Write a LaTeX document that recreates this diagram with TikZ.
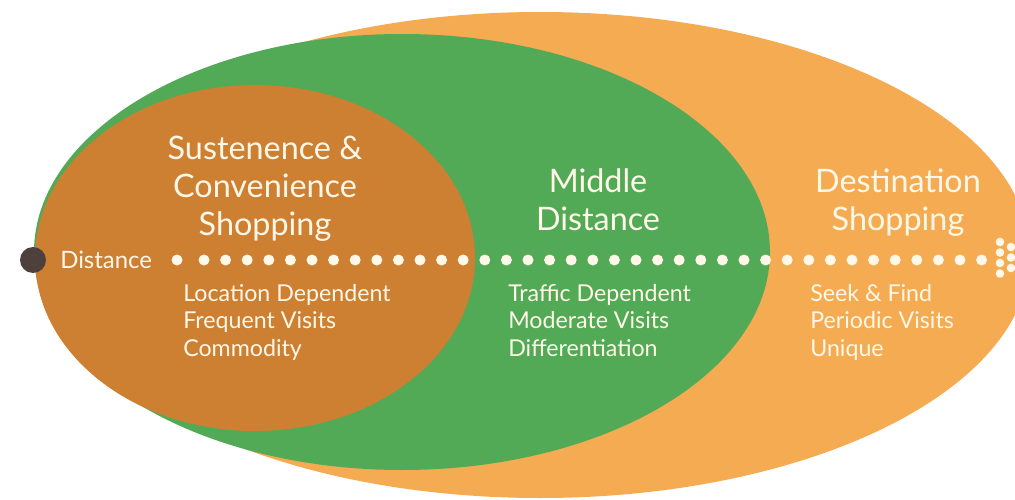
\documentclass[tikz,border=0pt]{standalone}
\usepackage{fontspec}
\setmainfont{Lato}
\definecolor{outerorange}{RGB}{245,171,82}
\definecolor{midgreen}{RGB}{82,170,86}
\definecolor{innerbrown}{RGB}{205,127,50}
\definecolor{dotdark}{RGB}{78,64,60}
\definecolor{cream}{RGB}{255,248,232}
\tikzset{
  title/.style={text=cream, align=center, inner sep=0pt, font=\fontsize{23}{27}\selectfont},
  sub/.style={text=cream, align=left, inner sep=0pt, font=\fontsize{16.5}{19.55}\selectfont},
  pathdot/.style={fill=cream},
}
\begin{document}
\begin{tikzpicture}[x=0.025cm,y=-0.025cm]
\useasboundingbox (0,0) rectangle (1015,500);
\clip (0,0) rectangle (1015,500);
% outer orange ellipse
\fill[outerorange] (540,255) ellipse [x radius=490, y radius=243];
% green ellipse
\fill[midgreen] (402,252) ellipse [x radius=368, y radius=218];
% brown ellipse
\fill[innerbrown] (255,258) ellipse [x radius=220, y radius=173];
% titles
\node[title] (t1) at (265,189) {Sustenence \&\\Convenience\\Shopping};
\node[title] (t2) at (598,200) {Middle\\Distance};
\node[title] (t3) at (898,203) {Destination\\Shopping};
% sub texts
\node[sub, anchor=north west] (s1) at (183,284) {Location Dependent\\Frequent Visits\\Commodity};
\node[sub, anchor=north west] (s2) at (508,284) {Traffic Dependent\\Moderate Visits\\Differentiation};
\node[sub, anchor=north west] (s3) at (810,284) {Seek \& Find\\Periodic Visits\\Unique};
% distance axis
\node[circle, fill=dotdark, minimum size=26*0.025cm, inner sep=0pt] (start) at (33,260) {};
\node[text=cream, anchor=west, inner sep=0pt, font=\fontsize{17}{19}\selectfont] (dist) at (60,260) {Distance};
\fill[pathdot] (177,260) circle (5.5);
\foreach \k in {0,...,36} {
  \fill[pathdot] ({204+21.6*\k},260) circle (5.5);
}
\foreach \yy in {242,252.5,263,273.5} { \fill[pathdot] (1000,\yy) circle (4.3); }
\foreach \yy in {247,257.5,268} { \fill[pathdot] (1011,\yy) circle (4.3); }
\end{tikzpicture}
\end{document}
